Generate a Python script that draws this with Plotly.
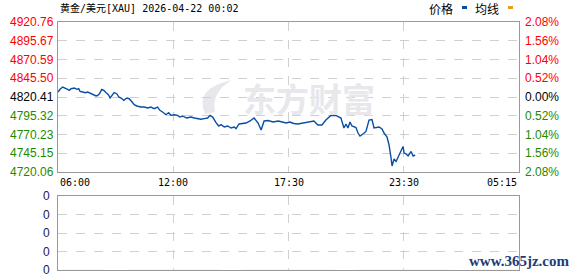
import plotly.graph_objects as go

W, H = 578, 276

# ---------------- data ----------------
title_text = "黄金/美元[XAU] 2026-04-22 00:02"
prev_close = 4820.41
price_ticks = [4920.76, 4895.67, 4870.59, 4845.50, 4820.41, 4795.32, 4770.23, 4745.15, 4720.06]
pct_labels = ["2.08%", "1.56%", "1.04%", "0.52%", "0.00%", "0.52%", "1.04%", "1.56%", "2.08%"]
time_labels = ["06:00", "12:00", "17:30", "23:30", "05:15"]
time_slots = [0, 345, 690, 1035, 1380]
vol_labels = ["0", "0", "0", "0", "0"]
vol_ticks = [4, 3, 2, 1, 0]

slots = [0, 6, 14, 22, 29, 34, 39, 49, 56, 62, 66, 74, 82, 89, 99, 109, 114, 119, 124, 131,
         137, 144, 151, 156, 162, 168, 176, 182, 189, 197, 206, 213, 222, 228, 236, 248, 258,
         269, 278, 288, 298, 305, 313, 323, 331, 338, 348, 358, 365, 373, 385, 398, 408, 418,
         428, 438, 448, 455, 463, 473, 481, 488, 498, 508, 518, 528, 533, 542, 551, 563, 575,
         587, 599, 608, 617, 629, 644, 659, 671, 683, 694, 706, 718, 733, 745, 754, 766, 778,
         790, 802, 817, 832, 847, 856, 862, 868, 874, 880, 892, 898, 904, 913, 922, 931, 940,
         946, 961, 970, 976, 985, 991, 997, 1000, 1006, 1012, 1021, 1027, 1033, 1036, 1042,
         1048, 1057, 1063, 1069]
prices = [4827.1, 4830.7, 4833.8, 4832.5, 4830.7, 4829.4, 4831.5, 4832.5, 4830.7, 4831.5,
          4828.0, 4827.1, 4826.2, 4827.1, 4824.8, 4823.5, 4821.8, 4822.7, 4824.8, 4830.7,
          4829.4, 4826.2, 4823.5, 4819.1, 4822.7, 4826.2, 4824.8, 4820.4, 4819.1, 4816.0,
          4819.1, 4818.1, 4813.7, 4810.1, 4808.4, 4807.0, 4807.0, 4805.7, 4807.0, 4804.8,
          4807.0, 4802.6, 4800.3, 4796.7, 4799.4, 4795.9, 4796.7, 4795.9, 4793.6, 4795.0,
          4792.3, 4793.6, 4792.3, 4791.4, 4790.6, 4791.4, 4792.3, 4795.9, 4793.6, 4786.0,
          4781.6, 4783.4, 4780.3, 4781.6, 4778.9, 4780.3, 4778.0, 4784.3, 4785.0, 4785.6,
          4788.3, 4792.3, 4785.6, 4776.3, 4788.3, 4789.0, 4787.0, 4788.3, 4787.0, 4785.6,
          4787.0, 4785.0, 4784.3, 4785.6, 4787.0, 4787.0, 4788.3, 4782.9, 4782.9, 4789.6,
          4795.7, 4795.7, 4792.3, 4778.9, 4784.3, 4778.9, 4787.0, 4781.6, 4779.6, 4772.2,
          4768.2, 4770.9, 4774.3, 4789.6, 4790.3, 4778.9, 4780.3, 4777.6, 4772.2, 4766.9,
          4756.2, 4738.8, 4728.1, 4737.5, 4734.1, 4742.8, 4749.5, 4754.2, 4745.5, 4744.2,
          4741.5, 4747.5, 4741.5, 4742.8]
volumes = [0, 0, 0, 0, 0]

# ---------------- geometry helpers (pixels -> paper) ----------------
def px(x):
    return x / W

def py(y):
    return 1 - y / H

L, R = 58, 519
T1, B1 = 22, 172
T2, B2 = 196, 270

RED = "#ff0000"
GREEN = "#1f8a00"
BLACK = "#000000"
GRID = "#d0d0d0"
FRAME = "#999999"

fig = go.Figure()
fig.add_trace(go.Scatter(x=slots, y=prices, mode="lines",
                         line=dict(color="#0a4ea3", width=1.4), xaxis="x", yaxis="y",
                         hoverinfo="skip", showlegend=False))
fig.add_trace(go.Bar(x=time_slots, y=volumes, xaxis="x2", yaxis="y2",
                     marker_color="#0a4ea3", showlegend=False, hoverinfo="skip"))

axis_common = dict(showgrid=True, gridcolor=GRID, griddash="dash", gridwidth=1,
                   showline=True, linecolor=FRAME, linewidth=1, mirror=True,
                   zeroline=False, showticklabels=False, ticks="", fixedrange=True)

fig.update_layout(
    width=W, height=H, margin=dict(l=0, r=0, t=0, b=0),
    paper_bgcolor="white", plot_bgcolor="white",
    xaxis=dict(domain=[px(L), px(R)], range=[0, 1380], tickvals=time_slots, anchor="y", **axis_common),
    yaxis=dict(domain=[py(B1), py(T1)], range=[price_ticks[-1], price_ticks[0]],
               tickvals=price_ticks, anchor="x", **axis_common),
    xaxis2=dict(domain=[px(L), px(R)], range=[0, 1380], tickvals=time_slots, anchor="y2", **axis_common),
    yaxis2=dict(domain=[py(B2), py(T2)], range=[0, 4], tickvals=vol_ticks, anchor="x2", **axis_common),
    showlegend=False,
)

ann = []
NUM_FONT = "Liberation Sans, Arial, sans-serif"
MONO_FONT = "DejaVu Sans Mono, Noto Sans CJK SC, monospace"

# watermark
ann.append(dict(text="<b>东方财富</b>", x=px(309), y=py(98), xref="paper", yref="paper",
                showarrow=False, xanchor="center", yanchor="middle",
                font=dict(family="Noto Sans CJK SC", size=33, color="#e7e7ec")))

# title
ann.append(dict(text=title_text, x=px(58), y=py(8), xref="paper", yref="paper", showarrow=False,
                xanchor="left", yanchor="middle", font=dict(family=MONO_FONT, size=10, color=BLACK)))
# legend
ann.append(dict(text="价格", x=px(455), y=py(8), xref="paper", yref="paper", showarrow=False,
                xanchor="right", yanchor="middle", font=dict(family="Noto Sans CJK SC", size=12, color=BLACK)))
ann.append(dict(text="均线", x=px(501), y=py(8), xref="paper", yref="paper", showarrow=False,
                xanchor="right", yanchor="middle", font=dict(family="Noto Sans CJK SC", size=12, color=BLACK)))

# left and right price labels
for p, pl in zip(price_ticks, pct_labels):
    if p > prev_close + 1e-6:
        c = RED
    elif abs(p - prev_close) < 1e-6:
        c = BLACK
    else:
        c = GREEN
    ann.append(dict(text=f"{p:.2f}", x=px(56), y=p, xref="paper", yref="y", showarrow=False,
                    xanchor="right", yanchor="middle", font=dict(family=NUM_FONT, size=12, color=c)))
    ann.append(dict(text=pl, x=px(523), y=p, xref="paper", yref="y", showarrow=False,
                    xanchor="left", yanchor="middle", font=dict(family=NUM_FONT, size=12, color=c)))

# time labels
for i, (s, t) in enumerate(zip(time_slots, time_labels)):
    xa = "left" if i == 0 else ("right" if i == len(time_labels) - 1 else "center")
    ann.append(dict(text=t, x=s, y=py(183), xref="x", yref="paper", showarrow=False,
                    xanchor=xa, yanchor="middle", font=dict(family=MONO_FONT, size=10, color=BLACK)))

# volume labels
for v, t in zip(vol_ticks, vol_labels):
    ann.append(dict(text=t, x=px(52), y=v, xref="paper", yref="y2", showarrow=False,
                    xanchor="right", yanchor="middle", font=dict(family=NUM_FONT, size=12, color="#1c2050")))

# site watermark
ann.append(dict(text="<b>www.365jz.com</b>", x=px(571), y=py(261), xref="paper", yref="paper",
                showarrow=False, xanchor="right", yanchor="middle",
                font=dict(family="Liberation Serif, serif", size=15, color="#1d3c78")))

fig.update_layout(annotations=ann)

# legend swatches and logo swoosh
shapes = [
    dict(type="rect", xref="paper", yref="paper", x0=px(462), x1=px(467), y0=py(9), y1=py(6),
         fillcolor="#0a4ea3", line=dict(width=0)),
    dict(type="rect", xref="paper", yref="paper", x0=px(508), x1=px(513), y0=py(9), y1=py(6),
         fillcolor="#e0a020", line=dict(width=0)),
    dict(type="path", xref="paper", yref="paper", layer="below",
         path=f"M {px(205)} {py(114)} Q {px(194)} {py(88)} {px(232)} {py(80)} "
              f"Q {px(211)} {py(92)} {px(215)} {py(112)} Z",
         fillcolor="#e7e7ec", line=dict(width=0)),
]
fig.update_layout(shapes=shapes)

fig.write_html("out.html")
